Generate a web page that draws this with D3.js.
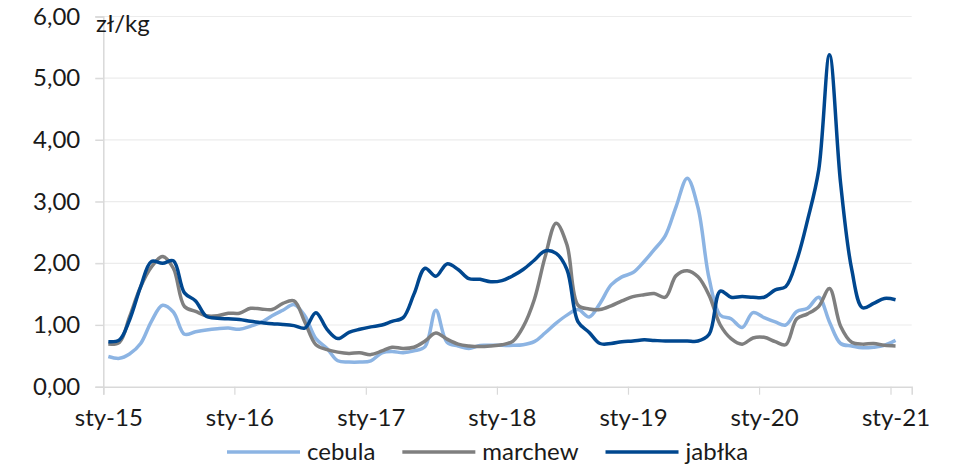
<!DOCTYPE html>
<html>
<head>
<meta charset="utf-8">
<script src="https://cdn.jsdelivr.net/npm/d3@7"></script>
<style>
  body { margin: 0; background: #fff; }
  svg text { font-family: Lato, "Noto Sans", sans-serif; fill: #1a1a1a; }
</style>
</head>
<body>
<svg id="chart" width="970" height="473"></svg>
<script>
// monthly prices, sty-15 .. sty-21 (zł/kg)
var cebula = [0.49, 0.46, 0.53, 0.70, 1.06, 1.32, 1.21, 0.85, 0.89, 0.92, 0.94, 0.95,
  0.93, 0.98, 1.04, 1.15, 1.24, 1.33, 1.15, 0.78, 0.62, 0.42, 0.40, 0.40,
  0.42, 0.55, 0.57, 0.55, 0.58, 0.65, 1.24, 0.72, 0.66, 0.62, 0.67, 0.67,
  0.67, 0.67, 0.68, 0.73, 0.87, 1.03, 1.16, 1.25, 1.13, 1.35, 1.65, 1.78,
  1.85, 2.03, 2.22, 2.45, 2.92, 3.38, 2.90, 1.75, 1.16, 1.10, 0.96, 1.20,
  1.12, 1.05, 1.00, 1.22, 1.27, 1.45, 1.05, 0.70, 0.66, 0.63, 0.64, 0.67,
  0.75];
var marchew = [0.69, 0.72, 1.13, 1.62, 1.94, 2.11, 1.92, 1.30, 1.22, 1.15, 1.15, 1.19,
  1.19, 1.27, 1.26, 1.25, 1.35, 1.39, 1.05, 0.68, 0.60, 0.56, 0.54, 0.55,
  0.52, 0.58, 0.64, 0.62, 0.64, 0.74, 0.87, 0.77, 0.69, 0.66, 0.65, 0.66,
  0.68, 0.74, 0.97, 1.41, 2.10, 2.65, 2.30, 1.32, 1.26, 1.25, 1.31, 1.39,
  1.46, 1.49, 1.51, 1.45, 1.80, 1.88, 1.78, 1.48, 1.00, 0.78, 0.69, 0.79,
  0.80, 0.73, 0.68, 1.10, 1.18, 1.30, 1.59, 0.98, 0.72, 0.69, 0.70, 0.67,
  0.66];
var jablka = [0.73, 0.76, 1.08, 1.62, 2.03, 2.00, 2.04, 1.52, 1.39, 1.14, 1.11, 1.10,
  1.09, 1.06, 1.04, 1.02, 1.01, 0.99, 0.95, 1.20, 0.93, 0.78, 0.88, 0.93,
  0.97, 1.00, 1.06, 1.12, 1.50, 1.92, 1.79, 1.99, 1.90, 1.75, 1.74, 1.70,
  1.72, 1.80, 1.90, 2.05, 2.20, 2.16, 1.90, 1.05, 0.88, 0.70, 0.70, 0.73,
  0.74, 0.76, 0.75, 0.74, 0.74, 0.74, 0.74, 0.85, 1.55, 1.45, 1.46, 1.45,
  1.45, 1.57, 1.62, 2.05, 2.70, 3.51, 5.38, 3.30, 1.90, 1.28, 1.35, 1.43,
  1.41];
var seriesNames = ["cebula", "marchew", "jabłka"];
var seriesColors = ["#8cb4e3", "#7f7f7f", "#00478f"];
var yTicks = [0, 1, 2, 3, 4, 5, 6];
var unitLabel = "zł/kg";

var svg = d3.select("#chart");
var plotLeft = 103.3, plotRight = 911.7, plotTop = 16.5, plotBottom = 386.7;

var x = d3.scaleTime()
  .domain([new Date(2015, 0, 1), new Date(2021, 2, 1)])
  .range([plotLeft, plotRight]);
var y = d3.scaleLinear().domain([0, 6]).range([plotBottom, plotTop]);

// gridlines
svg.append("g").selectAll("line").data(yTicks.slice(1)).enter().append("line")
  .attr("x1", plotLeft - 8).attr("x2", plotRight)
  .attr("y1", d => y(d)).attr("y2", d => y(d))
  .attr("stroke", "#ececec").attr("stroke-width", 1.2);

// y axis
var yAxis = d3.axisLeft(y).tickValues(yTicks).tickSize(8).tickPadding(15)
  .tickFormat(d => d3.format(".2f")(d).replace(".", ","));
var gy = svg.append("g").attr("transform", "translate(" + plotLeft + ",0)").call(yAxis);
gy.select(".domain").attr("stroke", "#d9d9d9").attr("stroke-width", 1.5);
gy.selectAll(".tick line").attr("stroke", "#d9d9d9").attr("stroke-width", 1.2);
gy.selectAll("text").style("font-size", "24px").attr("fill", "#1a1a1a");

// x axis
var xAxis = d3.axisBottom(x).ticks(d3.timeYear.every(1)).tickSize(8).tickPadding(14)
  .tickFormat(d => "sty-" + d3.timeFormat("%y")(d));
var gx = svg.append("g").attr("transform", "translate(0," + plotBottom + ")").call(xAxis);
gx.select(".domain").attr("stroke", "#d9d9d9").attr("stroke-width", 1.5);
gx.selectAll(".tick line").attr("stroke", "#d9d9d9").attr("stroke-width", 1.2);
gx.selectAll("text").style("font-size", "24px").attr("fill", "#1a1a1a").attr("dx", 5);

svg.append("text").attr("x", 96).attr("y", 32)
  .style("font-size", "24px").text(unitLabel);

// lines
var allSeries = [cebula, marchew, jablka];
var line = d3.line()
  .x((d, i) => x(new Date(2015, i, 15)))
  .y(d => y(d))
  .curve(d3.curveCatmullRom.alpha(0.5));

svg.append("g").selectAll("path").data(allSeries).enter().append("path")
  .attr("d", line)
  .attr("fill", "none")
  .attr("stroke", (d, i) => seriesColors[i])
  .attr("stroke-width", 3.5)
  .attr("stroke-linejoin", "round");

// legend
var lx = 227;
seriesNames.forEach(function(name, i) {
  var g = svg.append("g").attr("transform", "translate(" + lx + ",452)");
  g.append("line").attr("x1", 0).attr("x2", 73)
    .attr("stroke", seriesColors[i]).attr("stroke-width", 3.5);
  var t = g.append("text").attr("x", 80).attr("y", 8)
    .style("font-size", "24px").text(name);
  lx += 80 + t.node().getComputedTextLength() + 27;
});
</script>
</body>
</html>
